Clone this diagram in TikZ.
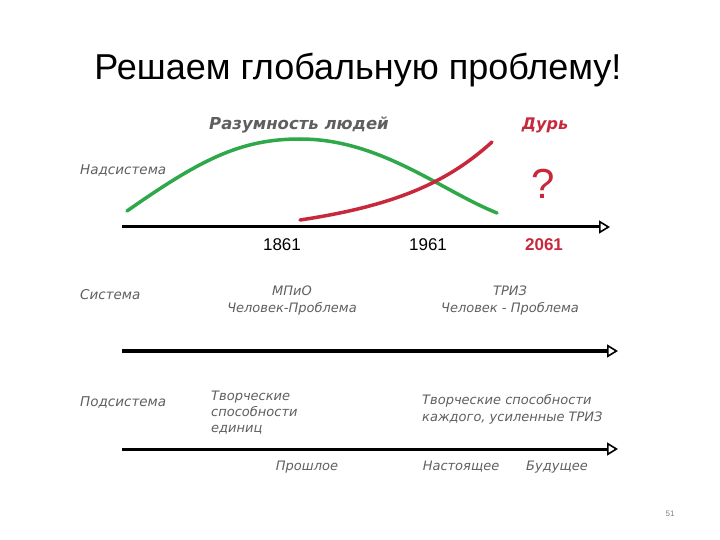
\documentclass[tikz,border=0pt]{standalone}
\usepackage{fontspec}
\setmainfont{Liberation Sans}
\newfontfamily\labelfont{DejaVu Sans}
\usetikzlibrary{arrows.meta}
\definecolor{curvegreen}{RGB}{46,168,72}
\definecolor{curvered}{RGB}{200,40,60}
\definecolor{labelgray}{RGB}{95,95,95}
\begin{document}
\begin{tikzpicture}[x=1pt,y=-1pt]
        \tikzstyle{axis line}=[line width=3pt,-{Triangle[open,length=11pt,width=13pt,line width=1.6pt]}]
        \tikzstyle{level label}=[anchor=west,inner sep=0,text=labelgray,font=\labelfont\itshape\fontsize{13.5}{15}\selectfont]
        \tikzstyle{stage label}=[inner sep=0,text=labelgray,align=center,font=\labelfont\itshape\fontsize{13}{17}\selectfont]
        \tikzstyle{year label}=[inner sep=0,font=\fontsize{17}{19}\selectfont]
        \useasboundingbox (0,0) rectangle (720,540);

        % Title
        \node(title) at (358,70){\fontsize{36}{40}\selectfont Решаем глобальную проблему!};

        % Supersystem: curves over the first axis
        \node(wisdom)[inner sep=0,text=labelgray,font=\labelfont\bfseries\itshape\fontsize{16.5}{18}\selectfont] at (299,125){Разумность людей};
        \node(folly)[inner sep=0,text=curvered,font=\labelfont\bfseries\itshape\fontsize{16}{18}\selectfont] at (545,125){Дурь};
        \node(q)[inner sep=0,text=curvered,font=\fontsize{42}{44}\selectfont] at (543,184){?};
        \node(super)[level label] at (80,171){Надсистема};
        \draw[curvegreen,line width=3.5pt,line cap=round] (127,211) .. controls (200,160) and (240,139) .. (300,139)
                .. controls (380,139) and (440,190) .. (497,213);
        \draw[curvered,line width=3.5pt,line cap=round] (300,220) .. controls (400,205) and (450,180) .. (492,142);

        \coordinate(a1s) at (122,227);
        \coordinate(a1e) at (610,227);
        \draw[axis line] (a1s) -- (a1e);
        \node(y1861)[year label] at (282,245){1861};
        \node(y1961)[year label] at (428,245){1961};
        \node(y2061)[year label,text=curvered,font=\bfseries\fontsize{17}{19}\selectfont] at (544,245){2061};

        % System
        \node(sys)[level label] at (80,295){Система};
        \node(mpio)[stage label] at (292,301){МПиО\\Человек-Проблема};
        \node(triz)[stage label] at (510,301){ТРИЗ\\Человек - Проблема};
        \coordinate(a2s) at (122,351);
        \coordinate(a2e) at (618,351);
        \draw[axis line,line width=4pt] (a2s) -- (a2e);

        % Subsystem
        \node(sub)[level label] at (80,403){Подсистема};
        \node(few)[level label,anchor=north west,align=left,font=\labelfont\itshape\fontsize{13}{16}\selectfont] at (211,391){Творческие\\способности\\единиц};
        \node(each)[level label,anchor=north west,align=left,font=\labelfont\itshape\fontsize{13}{17}\selectfont] at (422,394){Творческие способности\\каждого, усиленные ТРИЗ};
        \coordinate(a3s) at (122,449);
        \coordinate(a3e) at (618,449);
        \draw[axis line] (a3s) -- (a3e);
        \node(past)[stage label] at (307,467){Прошлое};
        \node(now)[stage label] at (461,467){Настоящее};
        \node(future)[stage label] at (557,467){Будущее};

        % Slide number
        \node(num)[inner sep=0,text=gray,font=\fontsize{8}{9}\selectfont] at (670,514){51};
    \end{tikzpicture}
\end{document}
